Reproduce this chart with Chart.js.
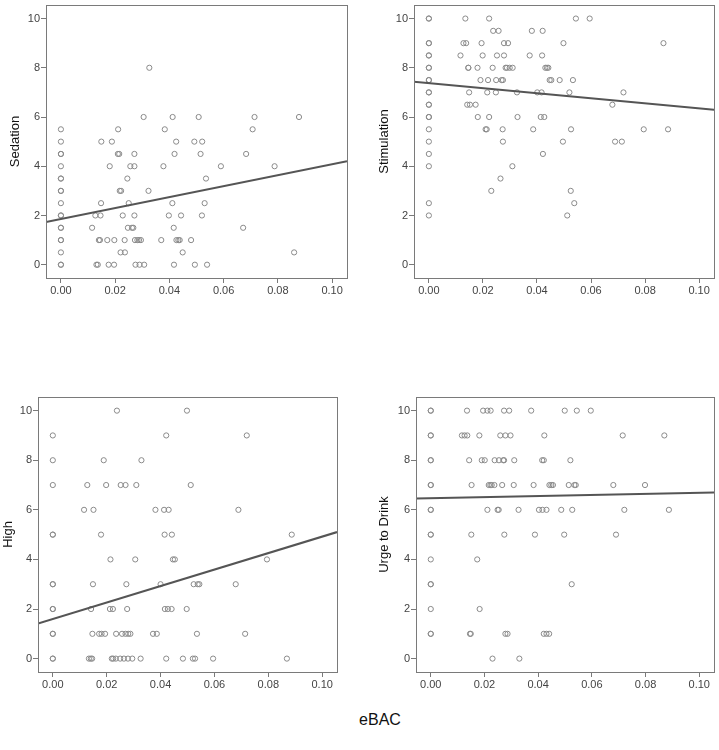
<!DOCTYPE html>
<html lang="en">
<head>
<meta charset="UTF-8">
<title>eBAC scatter plots</title>
<script src="https://cdn.jsdelivr.net/npm/chart.js"></script>
<style>
    body {
        margin: 0;
        background: #ffffff;
        font-family: 'Liberation Sans', Arial, sans-serif;
    }
    #page {
        position: relative;
        width: 719px;
        height: 750px;
        overflow: hidden;
        background: #ffffff;
    }
    #page canvas {
        position: absolute;
    }
    #xlabel {
        position: absolute;
        left: 330px;
        width: 100px;
        top: 711px;
        text-align: center;
        font-size: 16px;
        color: #111;
    }
</style>
</head>
<body>
<div id="page">
    <canvas id="c1"></canvas>
    <canvas id="c2"></canvas>
    <canvas id="c3"></canvas>
    <canvas id="c4"></canvas>
    <div id="xlabel">eBAC</div>
</div>

<script>
// axis ticks shared by all four panels
const xTicks = [0, 0.02, 0.04, 0.06, 0.08, 0.10];
const yTicks = [0, 2, 4, 6, 8, 10];
const X_MIN = -0.0055, X_MAX = 0.1055;
const Y_MIN = -0.54, Y_MAX = 10.55;

// Sedation: rating levels and the eBAC values seen on each level
const sedationLevels = [8, 6, 5.5, 5, 4.5, 4, 3.5, 3, 2.5, 2, 1.5, 1, 0.5, 0];
const sedationBac = [
    [0.0326],
    [0.0305, 0.0412, 0.0508, 0.0714, 0.0878],
    [0, 0.0211, 0.0383, 0.0707],
    [0, 0.0149, 0.0188, 0.0425, 0.0492, 0.0521],
    [0, 0, 0.0210, 0.0215, 0.0271, 0.0419, 0.0515, 0.0683],
    [0, 0.0180, 0.0256, 0.0271, 0.0378, 0.0590, 0.0788],
    [0, 0, 0.0245, 0.0535],
    [0, 0, 0.0217, 0.0222, 0.0323],
    [0, 0.0148, 0.0250, 0.0411, 0.0530],
    [0, 0, 0.0127, 0.0146, 0.0228, 0.0271, 0.0398, 0.0443, 0.0520],
    [0, 0, 0.0115, 0.0247, 0.0262, 0.0267, 0.0416, 0.0672],
    [0, 0, 0.0140, 0.0144, 0.0171, 0.0197, 0.0235, 0.0273, 0.0282, 0.0288, 0.0295, 0.0370, 0.0426, 0.0433, 0.0438, 0.0480],
    [0, 0.0220, 0.0236, 0.0449, 0.0860],
    [0, 0, 0.0131, 0.0136, 0.0176, 0.0196, 0.0275, 0.0290, 0.0307, 0.0417, 0.0494, 0.0539]
];
const sedationFit = [1.86, 22.2];   // intercept, slope

// Stimulation
const stimulationLevels = [10, 9.5, 9, 8.5, 8, 7.5, 7, 6.5, 6, 5.5, 5, 4.5, 4, 3.5, 3, 2.5, 2];
const stimulationBac = [
    [0, 0, 0.0135, 0.0223, 0.0544, 0.0595],
    [0.0238, 0.0258, 0.0381, 0.0421],
    [0, 0, 0.0128, 0.0138, 0.0195, 0.0278, 0.0293, 0.0498, 0.0868],
    [0, 0, 0.0117, 0.0199, 0.0252, 0.0278, 0.0373, 0.0419],
    [0, 0, 0.0146, 0.0146, 0.0180, 0.0236, 0.0284, 0.0289, 0.0299, 0.0310, 0.0431, 0.0437, 0.0442],
    [0, 0, 0.0191, 0.0219, 0.0249, 0.0269, 0.0274, 0.0447, 0.0453, 0.0484, 0.0533],
    [0, 0, 0.0149, 0.0216, 0.0248, 0.0326, 0.0401, 0.0417, 0.0520, 0.0720],
    [0, 0, 0.0142, 0.0152, 0.0173, 0.0679],
    [0, 0, 0.0181, 0.0223, 0.0328, 0.0414, 0.0427],
    [0, 0.0210, 0.0214, 0.0273, 0.0386, 0.0526, 0.0795, 0.0885],
    [0, 0.0274, 0.0496, 0.0689, 0.0714],
    [0, 0.0422],
    [0, 0.0309],
    [0.0265],
    [0.0231, 0.0525],
    [0, 0.0538],
    [0, 0.0512]
];
const stimulationFit = [7.38, -10.3];

// High
const highLevels = [10, 9, 8, 7, 6, 5, 4, 3, 2, 1, 0];
const highBac = [
    [0.0238, 0.0498],
    [0, 0.0421, 0.0720],
    [0, 0.0189, 0.0329],
    [0, 0.0128, 0.0198, 0.0252, 0.0270, 0.0310, 0.0512],
    [0.0116, 0.0151, 0.0381, 0.0413, 0.0430, 0.0689],
    [0, 0, 0.0179, 0.0415, 0.0442, 0.0887],
    [0.0214, 0.0306, 0.0446, 0.0453, 0.0795],
    [0, 0, 0.0149, 0.0273, 0.0400, 0.0523, 0.0538, 0.0544, 0.0679],
    [0, 0, 0.0142, 0.0212, 0.0223, 0.0276, 0.0416, 0.0427, 0.0441, 0.0497],
    [0, 0, 0.0147, 0.0172, 0.0181, 0.0194, 0.0235, 0.0257, 0.0270, 0.0280, 0.0288, 0.0372, 0.0386, 0.0535, 0.0714],
    [0, 0, 0.0134, 0.0141, 0.0146, 0.0219, 0.0224, 0.0234, 0.0250, 0.0264, 0.0279, 0.0295, 0.0326, 0.0421, 0.0483, 0.0520, 0.0528, 0.0595, 0.0869]
];
const highFit = [1.60, 33.2];

// Urge to Drink
const urgeLevels = [10, 9, 8, 7, 6, 5, 4, 3, 2, 1, 0];
const urgeBac = [
    [0, 0, 0.0135, 0.0195, 0.0211, 0.0223, 0.0273, 0.0292, 0.0374, 0.0499, 0.0544, 0.0596],
    [0, 0, 0.0116, 0.0126, 0.0136, 0.0181, 0.0259, 0.0278, 0.0297, 0.0423, 0.0715, 0.0870],
    [0, 0, 0.0143, 0.0190, 0.0201, 0.0238, 0.0254, 0.0270, 0.0273, 0.0311, 0.0415, 0.0421, 0.0520],
    [0, 0, 0.0152, 0.0216, 0.0222, 0.0227, 0.0237, 0.0266, 0.0309, 0.0383, 0.0442, 0.0449, 0.0455, 0.0514, 0.0535, 0.0540, 0.0680, 0.0798],
    [0, 0, 0.0211, 0.0249, 0.0253, 0.0327, 0.0403, 0.0416, 0.0431, 0.0486, 0.0527, 0.0721, 0.0887],
    [0, 0, 0.0151, 0.0274, 0.0388, 0.0497, 0.0690],
    [0, 0.0173],
    [0, 0, 0.0525],
    [0, 0.0182],
    [0, 0, 0.0146, 0.0149, 0.0278, 0.0286, 0.0421, 0.0431, 0.0441],
    [0.0230, 0.0330]
];
const urgeFit = [6.47, 2.2];

// where each panel sits on the page (page pixels)
const panels = [
    { id: 'c1', title: 'Sedation', levels: sedationLevels, bac: sedationBac, fit: sedationFit,
      left: 0, top: 0, w: 360, h: 300, area: [46, 3, 347, 278], titleX: 15.5 },
    { id: 'c2', title: 'Stimulation', levels: stimulationLevels, bac: stimulationBac, fit: stimulationFit,
      left: 368, top: 0, w: 351, h: 300, area: [414, 3, 714, 278], titleX: 384.5 },
    { id: 'c3', title: 'High', levels: highLevels, bac: highBac, fit: highFit,
      left: 0, top: 385, w: 350, h: 315, area: [38, 397, 337, 672], titleX: 8.5 },
    { id: 'c4', title: 'Urge to Drink', levels: urgeLevels, bac: urgeBac, fit: urgeFit,
      left: 368, top: 385, w: 351, h: 315, area: [416, 397, 717, 672], titleX: 384.5 }
];

const FONT = "'Liberation Sans', Arial, sans-serif";

const boxPlugin = {
    id: 'box',
    afterDatasetsDraw(chart) {
        const a = chart.chartArea;
        const ctx = chart.ctx;
        ctx.save();
        ctx.strokeStyle = '#7a7a7a';
        ctx.lineWidth = 1;
        ctx.strokeRect(Math.round(a.left) + 0.5, Math.round(a.top) + 0.5,
            Math.round(a.right - a.left), Math.round(a.bottom - a.top));
        ctx.restore();
    }
};

function toPoints(levels, bac) {
    const pts = [];
    levels.forEach((lv, i) => {
        bac[i].forEach(x => pts.push({ x: x, y: lv }));
    });
    return pts;
}

panels.forEach(p => {
    const cv = document.getElementById(p.id);
    cv.width = p.w;
    cv.height = p.h;
    cv.style.left = p.left + 'px';
    cv.style.top = p.top + 'px';

    const yWidth = p.area[0] - p.left;
    const xHeight = p.top + p.h - p.area[3];
    const padTop = p.area[1] - p.top;
    const padRight = p.left + p.w - p.area[2];
    const titlePad = p.titleX - p.left - 13 * 1.2 / 2;

    const a = p.fit[0], b = p.fit[1];

    new Chart(cv.getContext('2d'), {
        type: 'scatter',
        data: {
            datasets: [{
                type: 'line',
                data: [{ x: X_MIN, y: a + b * X_MIN }, { x: X_MAX, y: a + b * X_MAX }],
                borderColor: '#555555',
                borderWidth: 2,
                pointRadius: 0,
                fill: false,
                order: 0
            }, {
                data: toPoints(p.levels, p.bac),
                pointStyle: 'circle',
                pointRadius: 2.6,
                borderWidth: 1,
                borderColor: '#8a8a8a',
                backgroundColor: 'rgba(0,0,0,0)',
                order: 1
            }]
        },
        options: {
            responsive: false,
            animation: false,
            events: [],
            layout: { padding: { left: 0, top: padTop, right: padRight, bottom: 0 } },
            plugins: { legend: { display: false }, tooltip: { enabled: false } },
            scales: {
                x: {
                    type: 'linear',
                    min: X_MIN,
                    max: X_MAX,
                    afterBuildTicks: s => { s.ticks = xTicks.map(v => ({ value: v })); },
                    afterFit: s => { s.height = xHeight; s.paddingLeft = 0; s.paddingRight = 0; },
                    border: { display: false },
                    grid: { drawOnChartArea: false, drawTicks: true, tickLength: 5, color: '#7a7a7a' },
                    ticks: {
                        padding: 1,
                        color: '#444444',
                        font: { family: FONT, size: 11 },
                        callback: v => v.toFixed(2)
                    }
                },
                y: {
                    type: 'linear',
                    min: Y_MIN,
                    max: Y_MAX,
                    afterBuildTicks: s => { s.ticks = yTicks.map(v => ({ value: v })); },
                    afterFit: s => { s.width = yWidth; s.paddingTop = 0; s.paddingBottom = 0; },
                    border: { display: false },
                    grid: { drawOnChartArea: false, drawTicks: true, tickLength: 5, color: '#7a7a7a' },
                    ticks: {
                        padding: 1,
                        color: '#444444',
                        font: { family: FONT, size: 11 },
                        callback: v => String(v)
                    },
                    title: {
                        display: true,
                        text: p.title,
                        color: '#111111',
                        padding: { top: titlePad, bottom: 0 },
                        font: { family: FONT, size: 13 }
                    }
                }
            }
        },
        plugins: [boxPlugin]
    });
});
</script>
</body>
</html>
